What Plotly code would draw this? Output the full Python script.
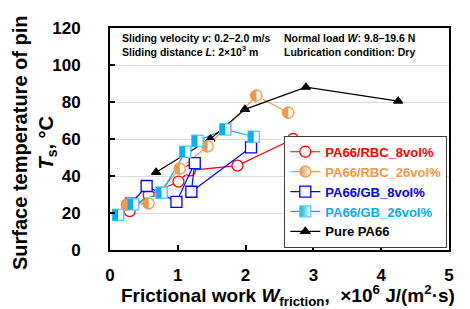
import plotly.graph_objects as go

# ---- data ----
pa66_x = [0.68, 1.48, 1.99, 2.89, 4.25]
pa66_y = [42, 60, 76, 88, 80.5]

rbc8_x = [0.29, 0.57, 1.01, 1.18, 1.88, 2.70]
rbc8_y = [21, 29.7, 37, 43, 45.6, 60]

rbc26_x = [0.25, 0.57, 1.03, 1.44, 2.16, 2.63]
rbc26_y = [24.5, 25.2, 44, 56, 83.4, 74.2]

gb8_x = [0.31, 0.54, 0.98, 1.25, 1.20, 2.08]
gb8_y = [25, 34.6, 26, 47, 31.5, 55.5]

gb26_x = [0.12, 0.34, 0.76, 1.11, 1.29, 1.70, 2.12]
gb26_y = [19, 24.7, 31, 53, 59, 65.2, 61.2]

x_ticks = [0, 1, 2, 3, 4, 5]
y_ticks = [0, 20, 40, 60, 80, 100, 120]

RED = "#FF0000"
ORANGE = "#F79646"
BLUE = "#0000FF"
CYAN = "#00B0F0"
CYAN_EDGE = "#5CCBF5"
FONT = "Arial, Liberation Sans, sans-serif"
MS = 11  # marker size (px)

fig = go.Figure()

def add(xs, ys, name, color, symbol, size, edge=None, fill="white", grad=None):
    marker = dict(symbol=symbol, size=size, color=fill,
                  line=dict(color=edge or color, width=1.3))
    if grad:
        marker["gradient"] = dict(type="horizontal", color=grad)
    fig.add_trace(go.Scatter(
        x=xs, y=ys, mode="lines+markers", hoverinfo="skip",
        name=f'<span style="color:{color}">{name}</span>',
        line=dict(color=color, width=1.2), marker=marker,
    ))

def overlay(xs, ys, **marker):
    fig.add_trace(go.Scatter(x=xs, y=ys, mode="markers", showlegend=False,
                             hoverinfo="skip", marker=marker))

add(rbc8_x, rbc8_y, "PA66/RBC_8vol%", RED, "circle", MS)
add(rbc26_x, rbc26_y, "PA66/RBC_26vol%", ORANGE, "circle", MS, fill=ORANGE, grad="white")
add(gb8_x, gb8_y, "PA66/GB_8vol%", BLUE, "square", MS)
add(gb26_x, gb26_y, "PA66/GB_26vol%", CYAN, "square", MS, edge=CYAN_EDGE, fill=CYAN, grad="white")
add(pa66_x, pa66_y, "Pure PA66", "black", "triangle-up", 8, fill="black")

# half-filled circles: full disk, white right half, outline
overlay(rbc26_x, rbc26_y, symbol="circle", size=MS, color=ORANGE,
        line=dict(color=ORANGE, width=1.3))
overlay(rbc26_x, rbc26_y, symbol="line-ew", size=12.6 / 1.4, angle=-90,
        standoff=3.2, color="white", line=dict(color="white", width=6.4))
overlay(rbc26_x, rbc26_y, symbol="circle", size=MS, color="rgba(0,0,0,0)",
        line=dict(color=ORANGE, width=1.3))
# half-filled squares: white square, cyan left half
overlay(gb26_x, gb26_y, symbol="square", size=MS, color="white",
        line=dict(color=CYAN_EDGE, width=1.3))
overlay(gb26_x, gb26_y, symbol="line-ew", size=MS / 1.4, angle=90,
        standoff=MS / 4, color=CYAN, line=dict(color=CYAN, width=MS / 2))

fig.update_layout(
    width=470, height=309,
    margin=dict(l=110, r=21, t=28, b=59),
    paper_bgcolor="white", plot_bgcolor="white",
    font=dict(family=FONT, color="black"),
    showlegend=True,
    legend=dict(x=0.995, y=0.01, xanchor="right", yanchor="bottom",
                bgcolor="white", bordercolor="#404040", borderwidth=1,
                font=dict(size=13, family=FONT, weight="bold"),
                tracegroupgap=0, itemwidth=30),
    annotations=[
        dict(xref="paper", yref="paper", x=0.03, y=0.99, xanchor="left",
             yanchor="top", align="left", showarrow=False,
             text="Sliding velocity <i>v</i>: 0.2–2.0 m/s<br>Sliding distance <i>L</i>: 2×10<sup>3</sup> m",
             font=dict(size=10.5, family=FONT, weight="bold")),
        dict(xref="paper", yref="paper", x=0.506, y=0.99, xanchor="left",
             yanchor="top", align="left", showarrow=False,
             text="Normal load <i>W</i>: 9.8–19.6 N<br>Lubrication condition: Dry",
             font=dict(size=10.5, family=FONT, weight="bold")),
        dict(xref="paper", yref="paper", x=0.525, y=-0.206, xanchor="center",
             yanchor="middle", showarrow=False,
             text="Frictional work <i>W</i><sub>friction</sub>,  ×10<sup>6</sup> J/(m<sup>2</sup>·s)",
             font=dict(size=19, family=FONT, weight="bold")),
        dict(xref="paper", yref="paper", x=-0.2212, y=0.482, xanchor="center",
             yanchor="middle", showarrow=False, textangle=-90,
             text="Surface temperature of pin<br><i>T</i><sub>s</sub>, °C",
             font=dict(size=20, family=FONT, weight="bold")),
    ],
)

fig.update_xaxes(
    range=[0, 5], tickvals=x_ticks, ticktext=[str(v) for v in x_ticks],
    showline=True, mirror=True, linecolor="black", linewidth=2,
    ticks="inside", ticklen=5, tickwidth=1.5, tickcolor="black",
    showgrid=False, zeroline=False,
    tickfont=dict(size=17, family=FONT, weight="bold"),
    ticklabelstandoff=9,
)
fig.update_yaxes(
    range=[0, 120], tickvals=y_ticks, ticktext=[str(v) for v in y_ticks],
    showline=True, mirror=True, linecolor="black", linewidth=2,
    ticks="inside", ticklen=5, tickwidth=1.5, tickcolor="black",
    showgrid=True, gridcolor="#D9D9D9", gridwidth=1, zeroline=False,
    tickfont=dict(size=17, family=FONT, weight="bold"),
    ticklabelstandoff=24,
)

fig.write_html("out.html", config={"displayModeBar": False},
               post_script="document.body.style.margin='0';")
